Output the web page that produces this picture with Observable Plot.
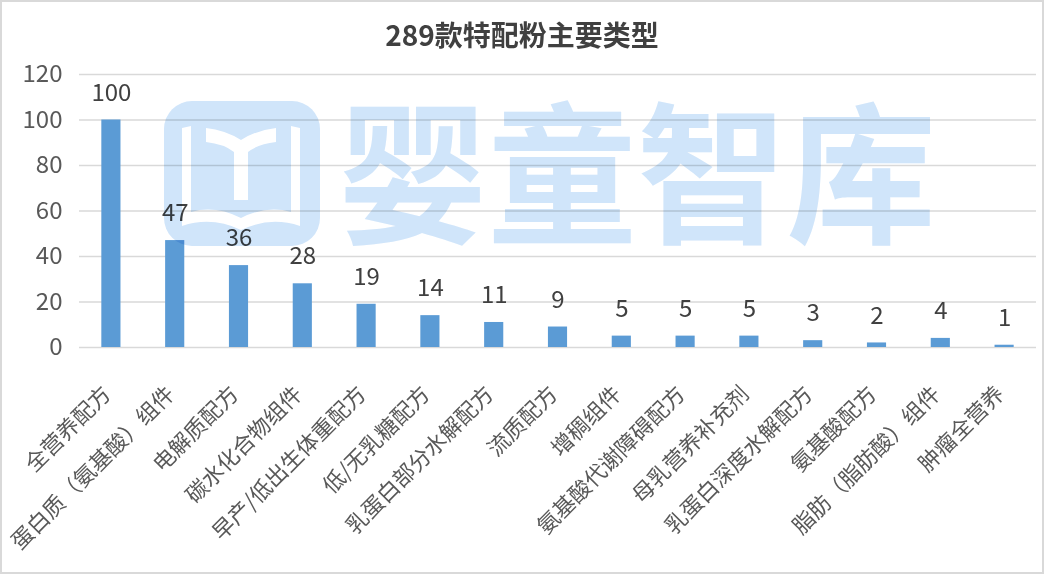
<!DOCTYPE html>
<html><head><meta charset="utf-8">
<script src="https://cdn.jsdelivr.net/npm/d3@7"></script>
<script src="https://cdn.jsdelivr.net/npm/@observablehq/plot@0.6"></script>
<style>
html,body{margin:0;padding:0;background:#fff;}
#wrap{position:relative;width:1044px;height:574px;overflow:hidden;font-family:"Noto Sans CJK SC","Noto Sans",sans-serif;background:#fff;isolation:isolate;}
#border{position:absolute;left:0;top:0;width:1044px;height:574px;box-sizing:border-box;border:2px solid #d9d9d9;pointer-events:none;}
#title{position:absolute;left:0;top:14px;width:1044px;text-align:center;font-size:28px;font-weight:bold;color:#404040;line-height:40px;}
#chart{position:absolute;left:0;top:58px;width:1044px;}
#chart svg{max-width:none !important;}
#wm{position:absolute;left:0;top:0;pointer-events:none;mix-blend-mode:multiply;}
</style></head>
<body>
<div id="wrap">
<div id="title">289款特配粉主要类型</div>
<div id="chart"></div>
<svg id="wm" width="1044" height="574">
  <g>
    <rect x="164" y="101" width="156" height="145" rx="28" fill="#d0e5fa"/>
    <path d="M182,128 L191,126 L191,212 Q215,205 241,218 Q267,205 291,212 L291,126 L300,128 L300,226 Q270,216 241,230 Q212,216 182,226 Z" fill="#fff"/>
    <path d="M206,128 Q225,130 241,140 Q257,130 276,128 L276,142 Q258,144 248,152 L248,200 L234,200 L234,152 Q224,144 206,142 Z" fill="#fff"/>
    <text x="338" y="232" font-size="152" font-weight="bold" fill="#d0e5fa" font-family="Noto Sans CJK SC" textLength="598" lengthAdjust="spacingAndGlyphs">婴童智库</text>
  </g>
</svg>
<div id="border"></div>
</div>
<script>
const categories = ["全营养配方","蛋白质（氨基酸）组件","电解质配方","碳水化合物组件","早产/低出生体重配方","低/无乳糖配方","乳蛋白部分水解配方","流质配方","增稠组件","氨基酸代谢障碍配方","母乳营养补充剂","乳蛋白深度水解配方","氨基酸配方","脂肪（脂肪酸）组件","肿瘤全营养"];
const values = [100,47,36,28,19,14,11,9,5,5,5,3,2,4,1];
const yTicks = [0,20,40,60,80,100,120];

const data = categories.map((c,i)=>({category:c, value:values[i]}));

const chart = Plot.plot({
  width: 1044,
  height: 516,
  marginLeft: 79,
  marginRight: 8,
  marginTop: 16,
  marginBottom: 227,
  style: {fontFamily: '"Noto Sans CJK SC","Noto Sans",sans-serif', background: "transparent", overflow: "visible"},
  x: {domain: categories, paddingInner: 0.7, paddingOuter: 0.35, round: false, label: null},
  y: {domain: [0,120], ticks: yTicks, label: null},
  marks: [
    Plot.ruleY(yTicks, {stroke: "#d9d9d9", strokeWidth: 1.5}),
    Plot.barY(data, {x: "category", y: "value", fill: "#5b9bd5"}),
    Plot.text(data, {x: "category", y: "value", text: d => String(d.value), dy: -27, fontSize: 24, fill: "#404040"}),
    Plot.axisY({ticks: yTicks, tickSize: 0, tickPadding: 17, fontSize: 24, color: "#595959", label: null}),
    Plot.axisX({tickSize: 0, tickRotate: -45, tickPadding: 43, dx: -4, fontSize: 22, color: "#595959", label: null})
  ]
});
document.getElementById("chart").appendChild(chart);
</script>
</body></html>
